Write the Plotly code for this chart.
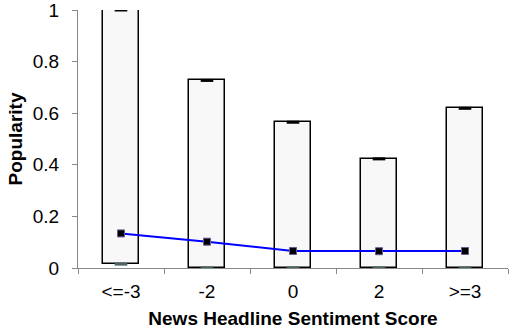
import plotly.graph_objects as go

categories = ["<=-3", "-2", "0", "2", ">=3"]
max_vals = [1.0, 0.727, 0.565, 0.423, 0.619]
min_vals = [0.015, 0.0, 0.0, 0.0, 0.0]
mean_vals = [0.134, 0.102, 0.066, 0.065, 0.066]

heights = [mx - mn for mx, mn in zip(max_vals, min_vals)]

fig = go.Figure()
fig.add_trace(go.Bar(
    x=categories, y=heights, base=min_vals, width=0.42,
    marker=dict(color="#f8f8f8", line=dict(color="black", width=1.5)),
    showlegend=False, hoverinfo="skip",
))
fig.add_trace(go.Scatter(
    x=categories, y=max_vals, mode="markers",
    marker=dict(symbol="line-ew", size=9, line=dict(color="black", width=3)),
    showlegend=False,
))
fig.add_trace(go.Scatter(
    x=categories, y=min_vals, mode="markers",
    marker=dict(symbol="line-ew", size=9, line=dict(color="#4a6464", width=3)),
    showlegend=False,
))
fig.add_trace(go.Scatter(
    x=categories, y=mean_vals, mode="lines+markers",
    line=dict(color="#0000ff", width=2),
    marker=dict(symbol="square", size=7, color="black", line=dict(color="#6a5a8a", width=1)),
    showlegend=False,
))

fig.update_layout(
    width=513, height=336,
    margin=dict(l=78, r=5, t=10, b=68),
    paper_bgcolor="white", plot_bgcolor="white",
    font=dict(family="Liberation Sans, Arial, sans-serif", size=19, color="black"),
    bargap=0,
)
fig.update_xaxes(
    type="category", tickson="boundaries", ticks="outside", ticklen=5,
    tickcolor="#888888", showline=True, linecolor="#888888", linewidth=1,
    showgrid=False, zeroline=False, automargin=False, ticklabelstandoff=6,
    title=dict(text="<b>News Headline Sentiment Score</b>", font=dict(size=19), standoff=10),
    range=[-0.5, 4.5],
)
fig.update_yaxes(
    range=[0, 1], tickvals=[0, 0.2, 0.4, 0.6, 0.8, 1],
    ticktext=["0", "0.2", "0.4", "0.6", "0.8", "1"],
    ticks="outside", ticklen=5, tickcolor="#888888",
    showline=True, linecolor="#888888", linewidth=1, ticklabeloverflow="allow",
    showgrid=False, zeroline=False, ticklabelstandoff=9, automargin=False,
    title=dict(text="<b>Popularity</b>", font=dict(size=19), standoff=5),
)

fig.write_html("out.html", config={"displayModeBar": False},
               post_script="document.body.style.margin='0';")
